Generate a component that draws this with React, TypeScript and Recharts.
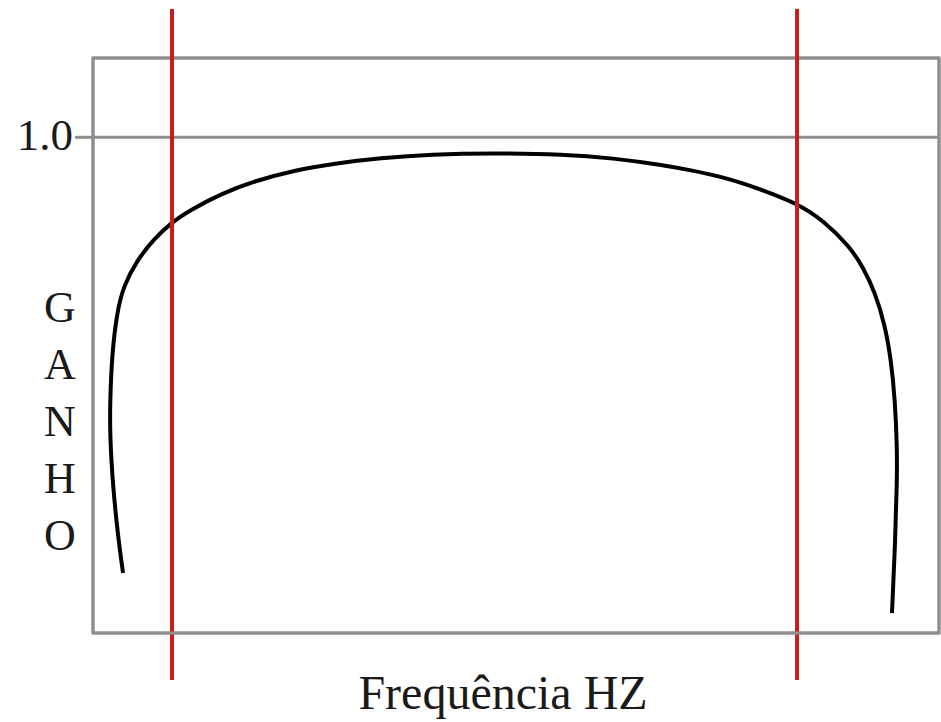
import React from 'react';
import {
  LineChart, Line, XAxis, YAxis, ReferenceLine, ReferenceArea,
} from 'recharts';

const freqs = [
  3.55, 2.96, 2.36, 2.01, 2.01, 2.25, 2.84, 3.55, 5.2, 7.21,
  9.34, 11.47, 15.13, 19.15, 23.88, 28.84, 33.92, 39.83, 47.75, 55.56,
  61.47, 67.38, 70.57, 74.47, 78.49, 83.22, 86.29, 89.48, 91.02, 92.43,
  93.62, 94.33, 94.8, 95.04, 95.04, 94.8, 94.44,
];
const gains = [
  0.121, 0.194, 0.295, 0.395, 0.464, 0.565, 0.646, 0.698, 0.752, 0.795,
  0.829, 0.853, 0.886, 0.912, 0.934, 0.948, 0.958, 0.966, 0.968, 0.966,
  0.958, 0.944, 0.934, 0.92, 0.898, 0.867, 0.833, 0.779, 0.738, 0.688,
  0.621, 0.551, 0.47, 0.375, 0.309, 0.173, 0.04,
];
const cutoffs = [9.34, 83.22];
const yTicks = [1];
const xDomain = [0, 100];
const yDomain = [0, 1.16];
const yLabelLetters = ['G', 'A', 'N', 'H', 'O'];
const xLabel = 'Frequência HZ';

const data = freqs.map((f, i) => ({ f, g: gains[i] }));

const GRAY = '#8e8e8e';
const RED = '#c81d1d';
const INK = '#1a1a1a';
const FONT = "'Liberation Serif', 'Times New Roman', serif";

// red cut-off markers run past the top and bottom of the frame
const TallLine = (p: any) => (
  <line
    x1={p.x1}
    x2={p.x2}
    y1={Math.min(p.y1, p.y2) - 49}
    y2={Math.max(p.y1, p.y2) + 47}
    stroke={RED}
    strokeWidth={4}
  />
);

const GainLabel = ({ viewBox }: any) => {
  const cx = viewBox.x + 60;
  return (
    <text x={cx} y={viewBox.y + 264} textAnchor="middle" fontSize={44} fill={INK} fontFamily={FONT}>
      {yLabelLetters.map((ch, i) => (
        <tspan key={i} x={cx} dy={i === 0 ? 0 : 57}>{ch}</tspan>
      ))}
    </text>
  );
};

const FreqLabel = ({ viewBox }: any) => (
  <text
    x={viewBox.x + viewBox.width / 2 - 13}
    y={viewBox.y + 76}
    textAnchor="middle"
    fontSize={48}
    fill={INK}
    fontFamily={FONT}
  >
    {xLabel}
  </text>
);

export default function App() {
  return (
    <div style={{ position: 'fixed', left: 0, top: 0, width: 941, height: 722, background: '#fff' }}>
      <LineChart
        width={941}
        height={722}
        data={data}
        margin={{ top: 58, right: 2, bottom: 0, left: 0 }}
        style={{ fontFamily: FONT }}
      >
        <XAxis
          dataKey="f"
          type="number"
          domain={xDomain}
          height={89}
          tick={false}
          tickLine={false}
          axisLine={{ stroke: GRAY, strokeWidth: 3 }}
          label={{ content: FreqLabel }}
        />
        <YAxis
          type="number"
          domain={yDomain}
          ticks={yTicks}
          width={93}
          tickSize={18}
          tickFormatter={(v: number) => v.toFixed(1)}
          tick={{ fontSize: 45, fill: INK, fontFamily: FONT, dy: -3 }}
          tickLine={{ stroke: GRAY, strokeWidth: 3 }}
          axisLine={{ stroke: GRAY, strokeWidth: 3 }}
          label={{ content: GainLabel }}
        />
        <ReferenceArea
          x1={xDomain[0]}
          x2={xDomain[1]}
          y1={yDomain[0]}
          y2={yDomain[1]}
          fill="none"
          fillOpacity={0}
          stroke={GRAY}
          strokeWidth={3}
          ifOverflow="visible"
        />
        <ReferenceLine x={xDomain[1]} stroke={GRAY} strokeWidth={3} ifOverflow="visible" />
        <ReferenceLine y={yDomain[1]} stroke={GRAY} strokeWidth={3} ifOverflow="visible" />
        <ReferenceLine y={1} stroke={GRAY} strokeWidth={3} />
        <Line
          dataKey="g"
          type="basis"
          stroke="#000"
          strokeWidth={4}
          dot={false}
          activeDot={false}
          isAnimationActive={false}
        />
        {cutoffs.map((c) => (
          <ReferenceLine key={c} x={c} stroke={RED} strokeWidth={4} shape={TallLine} />
        ))}
      </LineChart>
    </div>
  );
}
